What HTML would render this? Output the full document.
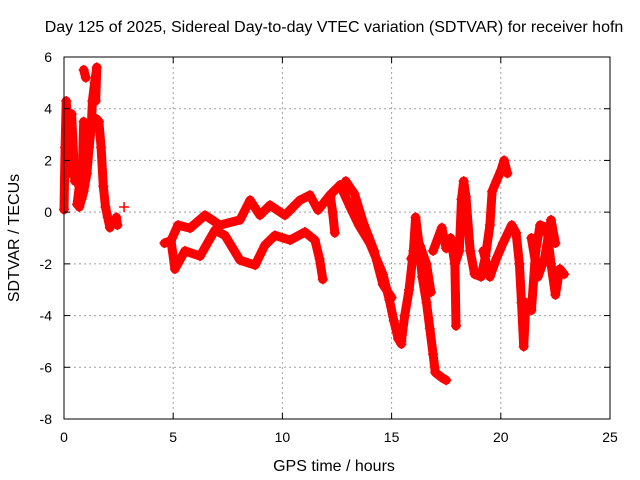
<!DOCTYPE html>
<html><head><meta charset="utf-8"><style>
html,body{margin:0;padding:0;background:#fff;}
svg{display:block;font-family:"Liberation Sans",sans-serif;}
</style></head><body>
<svg id="chart" width="640" height="480">
<text x="334" y="32" font-size="16" text-anchor="middle">Day 125 of 2025, Sidereal Day-to-day VTEC variation (SDTVAR) for receiver hofn</text>
<text x="334" y="471" font-size="16" text-anchor="middle">GPS time / hours</text>
<text x="19" y="238" font-size="16" text-anchor="middle" transform="rotate(-90 19 238)">SDTVAR / TECUs</text>
<g id="grid"></g><g id="marks"></g>
<rect x="64" y="57" width="546" height="362" fill="none" stroke="#000" stroke-width="1"/>
<g id="ticks"></g>
</svg>
<script>
const xTicks=[0,5,10,15,20,25];
const yTicks=[6,4,2,0,-2,-4,-6,-8];
const seriesTracks=[
 [[0,0.1],[0.05,2.5],[0.1,4.3],[0.2,3],[0.3,1.5],[0.35,3.8],[0.45,2],[0.5,1.2]],
 [[0.6,0.3],[0.7,1],[0.8,0.5],[0.9,3.5],[1.0,2.5],[1.1,3.3]],
 [[0.7,0.2],[0.9,0.8],[1.05,1.5],[1.15,2.5],[1.25,3.3],[1.3,4.3],[1.4,5],[1.5,5.6],[1.45,4.3]],
 [[0.9,5.5],[1.0,5.2]],
 [[1.5,3.6],[1.6,3.5],[1.7,2.5],[1.8,1],[1.9,0.2],[2.0,-0.2],[2.1,-0.6]],
 [[2.4,-0.2],[2.45,-0.5]],
 [[2.75,0.2]],
 [[4.6,-1.2],[4.9,-1.1],[5.08,-2.2],[5.54,-1.5],[6.23,-1.7],[6.91,-0.7],[7.37,-0.9],[8.06,-1.86],[8.75,-2.05],[9.2,-1.28],[9.66,-0.9],[10.35,-1.08],[11.03,-0.77],[11.49,-1.08],[11.7,-1.8],[11.85,-2.6]],
 [[4.9,-1.1],[5.22,-0.5],[5.77,-0.62],[6.46,-0.12],[7.14,-0.5],[8.06,-0.3],[8.52,0.46],[8.97,-0.12],[9.43,0.27],[10.12,-0.12],[10.8,0.46],[11.26,0.66],[11.63,0.08],[12.18,0.66],[12.64,1.05]],
 [[12.64,1.05],[13.1,0.2],[13.5,-0.5],[14.0,-1.2],[14.6,-2.4],[14.9,-3.4],[15.1,-4.2],[15.3,-4.9],[15.45,-5.1]],
 [[12.9,1.2],[13.3,0.7],[13.7,-0.4],[14.2,-1.5],[14.6,-2.8],[15.0,-3.3]],
 [[12.2,0.6],[12.3,0],[12.4,-0.8]],
 [[15.45,-5.0],[15.6,-4],[15.8,-3],[16.0,-1.5],[16.1,-0.2],[16.25,-1.2],[16.4,-2.5],[16.6,-3.5],[16.75,-4.5],[16.9,-5.5],[17.0,-6.2],[17.3,-6.4],[17.5,-6.5]],
 [[15.9,-1.8],[16.3,-1.3],[16.6,-2],[16.8,-3.1]],
 [[16.9,-1.5],[17.3,-0.6],[17.5,-1.4],[17.7,-1.0],[17.9,-2],[17.95,-4.4]],
 [[17.9,-2],[18.1,-1.5],[18.2,0.5],[18.3,1.2],[18.4,0.6],[18.6,-1.5],[18.8,-2.4],[19.1,-2.5],[19.3,-1.7],[19.5,-0.5],[19.6,0.8],[19.8,1.2],[20.0,1.6],[20.15,2],[20.3,1.5]],
 [[19.2,-1.5],[19.5,-2.5],[19.8,-1.8],[20.1,-1.2],[20.5,-0.5],[20.7,-0.8],[20.85,-2],[20.95,-3.5],[21.05,-5.2],[21.15,-3.5],[21.4,-3.8],[21.6,-1.5],[21.8,-0.5],[22.1,-0.6],[22.3,-2],[22.5,-3.2],[22.7,-2.2],[22.9,-2.4]],
 [[21.4,-1],[21.7,-2.5],[22.0,-1.8],[22.3,-0.3],[22.5,-1.2]]
];
const NS='http://www.w3.org/2000/svg';
const X0=64,X1=610,Y0=419,Y1=57;
function xs(t){return X0+(t-0)/25*(X1-X0);}
function ys(v){return Y0-(v+8)/14*(Y0-Y1);}
const grid=document.getElementById('grid'),ticks=document.getElementById('ticks'),marks=document.getElementById('marks');
function mk(tag,attrs,parent){const e=document.createElementNS(NS,tag);for(const k in attrs)e.setAttribute(k,attrs[k]);parent.appendChild(e);return e;}
xTicks.forEach(t=>{const x=xs(t);
 if(t>0&&t<25){const g=mk('line',{x1:x,x2:x,y1:Y1,y2:Y0,stroke:'#a0a0a0','stroke-dasharray':'2,3'},grid);
 
 }
 mk('line',{x1:x,x2:x,y1:Y0,y2:Y0-6,stroke:'#000'},ticks);
 mk('line',{x1:x,x2:x,y1:Y1,y2:Y1+6,stroke:'#000'},ticks);
 const l=mk('text',{x:x,y:Y0+23,'font-size':14,'text-anchor':'middle'},ticks);l.textContent=t;
 
 });
yTicks.forEach(v=>{const y=ys(v);
 if(v>-8&&v<6){const g=mk('line',{x1:X0,x2:X1,y1:y,y2:y,stroke:'#a0a0a0','stroke-dasharray':'2,3'},grid);
 
 }
 mk('line',{x1:X0,x2:X0+6,y1:y,y2:y,stroke:'#000'},ticks);
 mk('line',{x1:X1,x2:X1-6,y1:y,y2:y,stroke:'#000'},ticks);
 const l=mk('text',{x:X0-12,y:y+5,'font-size':14,'text-anchor':'end'},ticks);l.textContent=v;
 
 });
seriesTracks.forEach(tr=>{
 const pts=tr.map(p=>xs(p[0]).toFixed(1)+','+ys(p[1]).toFixed(1)).join(' ');
 const pl=mk('polyline',{points:pts,fill:'none',stroke:'#ff0000','stroke-width':9,'stroke-linejoin':'round','stroke-linecap':'round'},marks);
 
 
 tr.forEach(p=>{const x=xs(p[0]),y=ys(p[1]);
  const m=mk('path',{d:`M${x-5},${y}h10M${x},${y-5}v10`,stroke:'#ff0000','stroke-width':1.5},marks);
  
  });
});
</script>
</body></html>
